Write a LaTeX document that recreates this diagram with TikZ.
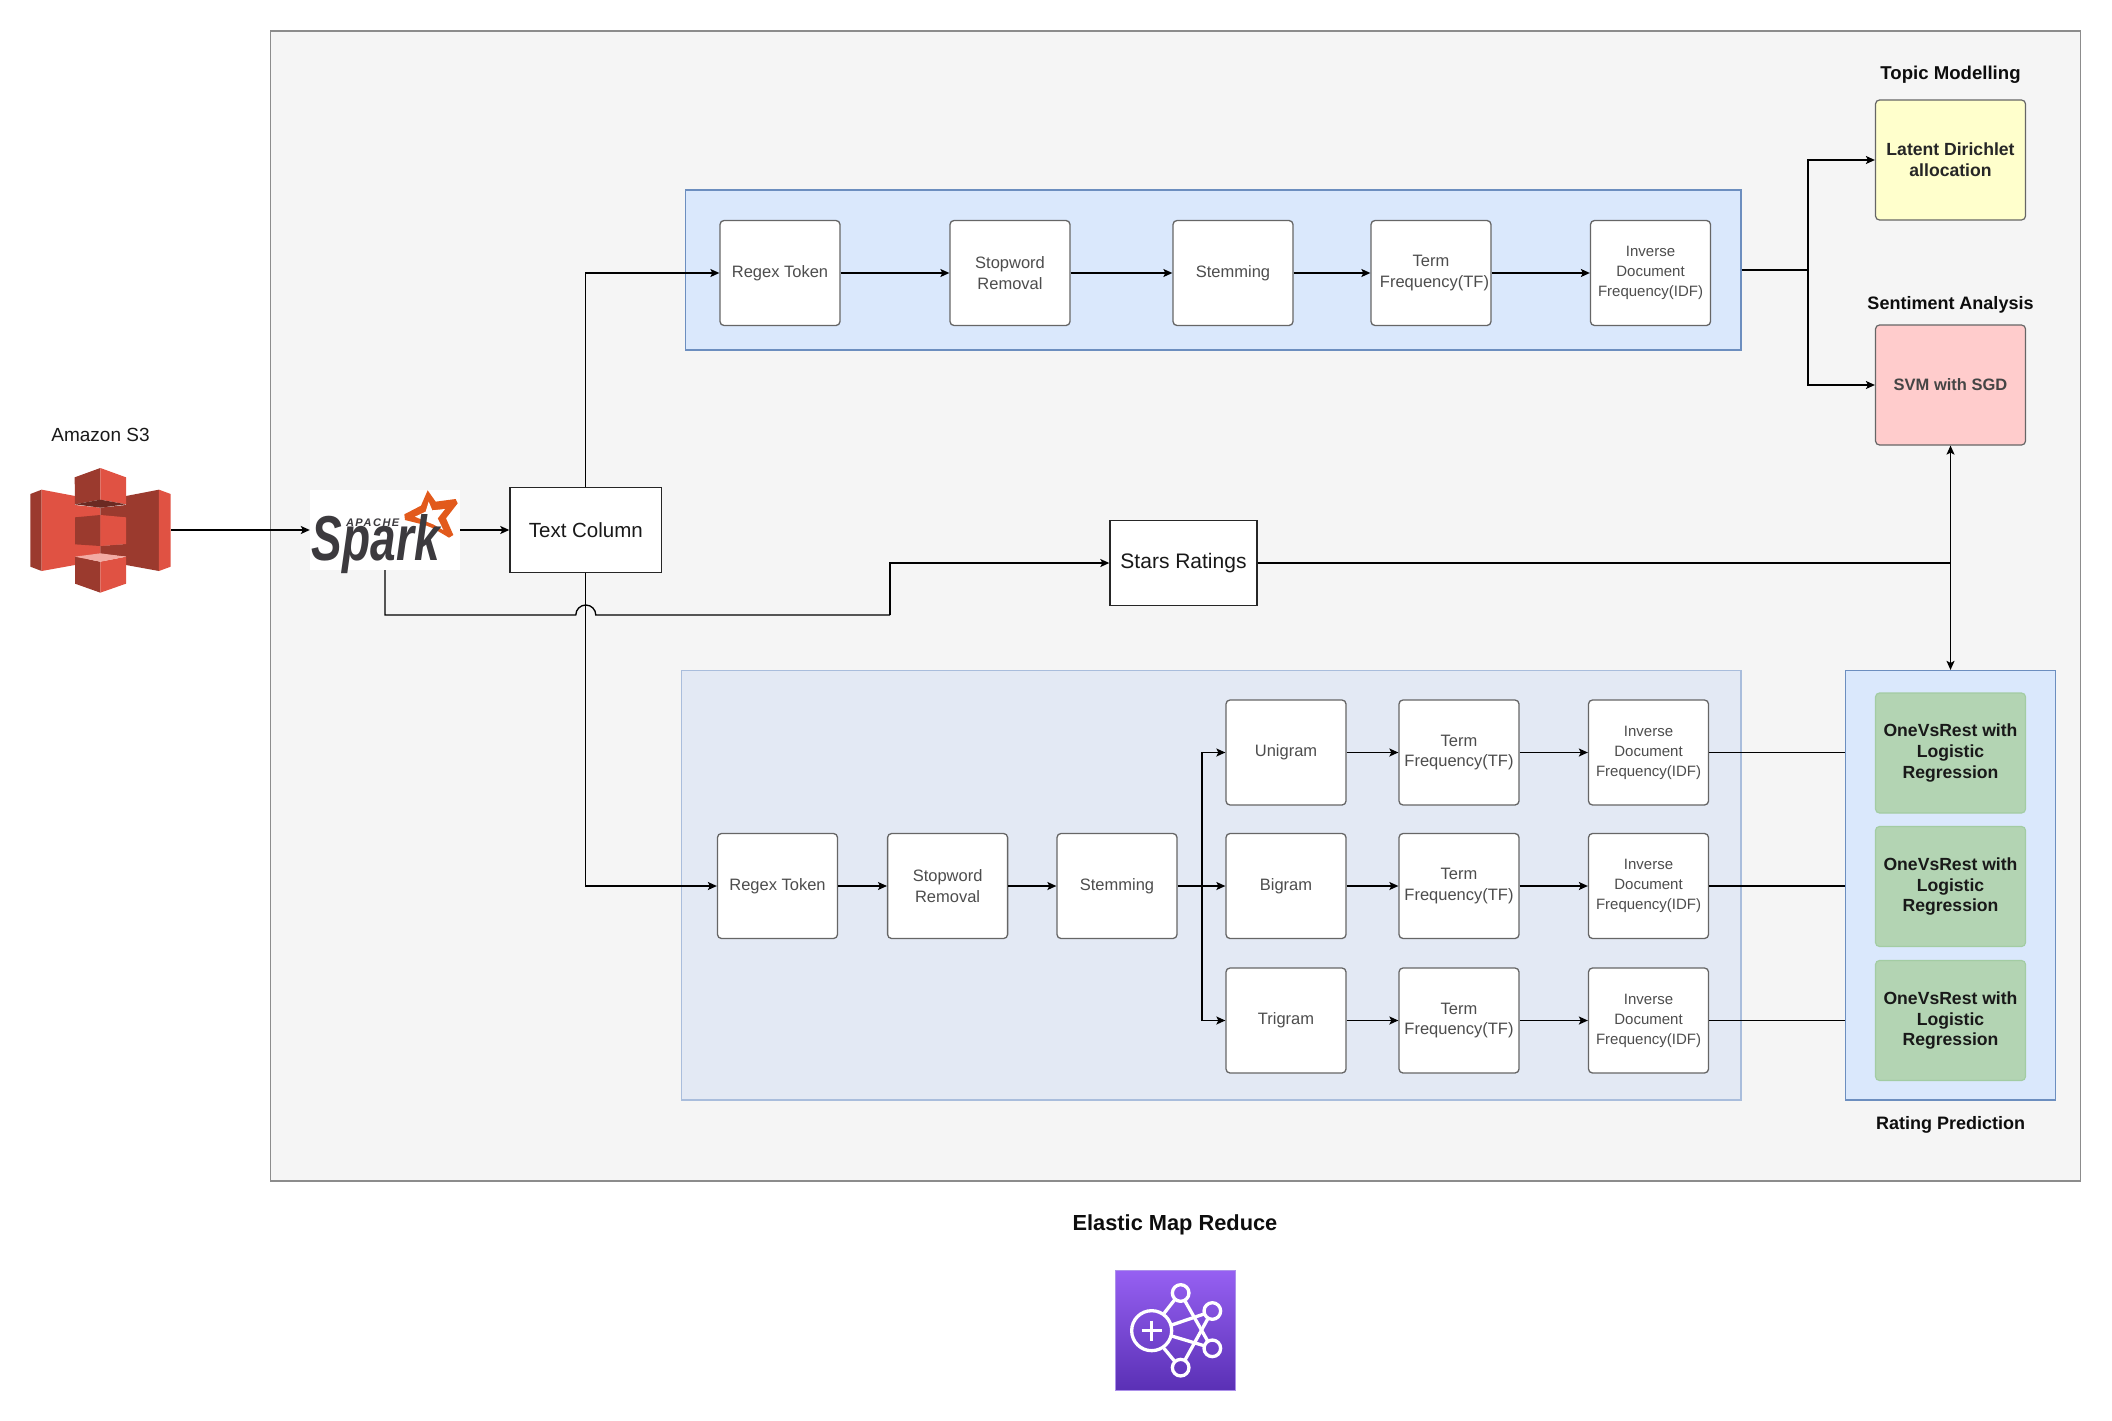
\documentclass[tikz,border=0pt]{standalone}
\usepackage{fontspec}
\setmainfont{Liberation Sans}
\newfontfamily\apachefont[LetterSpace=14]{Liberation Sans}
\usetikzlibrary{arrows.meta,calc}
\definecolor{outerfill}{HTML}{F5F5F5}
\definecolor{outerline}{HTML}{8C8C8C}
\definecolor{bluefill}{HTML}{DAE8FC}
\definecolor{blueline}{HTML}{6C8EBF}
\definecolor{panelfill}{HTML}{E3E9F4}
\definecolor{panelline}{HTML}{A9BDDC}
\definecolor{boxline}{HTML}{666666}
\definecolor{boxtext}{HTML}{4D4D4D}
\definecolor{yellowfill}{HTML}{FFFFCC}
\definecolor{pinkfill}{HTML}{FFCCCC}
\definecolor{greenfill}{HTML}{B3D4B3}
\definecolor{greenline}{HTML}{A3CCA3}
\definecolor{awslight}{HTML}{E05243}
\definecolor{awsdark}{HTML}{9B3A2E}
\definecolor{awsdeep}{HTML}{6B2A22}
\definecolor{awspale}{HTML}{F2ABA3}
\definecolor{sparkorange}{HTML}{E25A1C}
\definecolor{sparkgrey}{HTML}{3C3A3E}
\definecolor{emrtop}{HTML}{9660F2}
\definecolor{emrbot}{HTML}{5A30B5}
\definecolor{emrline}{HTML}{AC90EA}
\tikzset{
  x=1pt,y=-1pt,
  outerbox/.style={draw=outerline,fill=outerfill,line width=1.3pt,inner sep=0pt},
  bluepanel/.style={draw=blueline,fill=bluefill,line width=1.3pt,inner sep=0pt},
  greypanel/.style={draw=panelline,fill=panelfill,line width=1.3pt,inner sep=0pt},
  stepbox/.style={draw=boxline,fill=white,line width=1.3pt,rounded corners=4pt,inner sep=0pt,
    minimum width=120pt,minimum height=105pt,align=center,text=boxtext,
    font=\fontsize{16.5}{20.5}\selectfont},
  idfbox/.style={stepbox,font=\fontsize{15}{20}\selectfont},
  plainbox/.style={draw=black!85,fill=white,line width=1.4pt,inner sep=0pt,text=black!90,
    font=\fontsize{20.5}{24}\selectfont},
  modelbox/.style={draw=boxline,line width=1.2pt,rounded corners=4pt,inner sep=0pt,
    minimum width=150pt,minimum height=120pt,align=center,
    font=\bfseries\fontsize{17.6}{20.8}\selectfont},
  ovrbox/.style={modelbox,draw=greenline,fill=greenfill,text=black!90},
  caption/.style={inner sep=0pt,font=\bfseries\fontsize{18}{22}\selectfont,text=black!95},
  link/.style={draw=black,line width=1.35pt,-{Stealth[length=9pt,width=8pt,inset=2pt]}},
  wire/.style={draw=black,line width=1.35pt},
  greylink/.style={link,draw=black!70},
  emrstroke/.style={draw=white,line width=3.3pt},
}
\begin{document}
\begin{tikzpicture}
\useasboundingbox (0,0) rectangle (2112,1421);

% containers
\node[outerbox,minimum width=1810pt,minimum height=1150pt] (emr) at (1175.5,606) {};
\node[bluepanel,minimum width=1055.7pt,minimum height=160pt] (toppanel) at (1213.2,270) {};
\node[greypanel,minimum width=1059.4pt,minimum height=429.5pt] (botpanel) at (1211.3,885.3) {};
\node[bluepanel,minimum width=210pt,minimum height=429.5pt] (rp) at (1950.5,885.3) {};

% S3 anchor + Spark anchor
\node[inner sep=0pt,minimum width=140.4pt,minimum height=125pt] (s3) at (100.5,530) {};
\node[fill=white,inner sep=0pt,minimum width=150pt,minimum height=80pt] (spark) at (385,530) {};

% main boxes
\node[plainbox,minimum width=151.6pt,minimum height=85pt] (tc) at (585.8,530) {Text Column};
\node[plainbox,minimum width=147pt,minimum height=85pt,font=\fontsize{21}{25}\selectfont] (stars) at (1183.5,563) {Stars Ratings};

% top row
\node[stepbox] (r1) at (780,273) {Regex Token};
\node[stepbox] (s1) at (1010,273) {Stopword\\Removal};
\node[stepbox] (m1) at (1233,273) {Stemming};
\node[stepbox] (t1) at (1431,273) {Term\\\hspace*{7pt}Frequency(TF)};
\node[idfbox] (i1) at (1650.5,273) {Inverse\\Document\\Frequency(IDF)};

% bottom row
\node[stepbox] (r2) at (777.5,886) {Regex Token};
\node[stepbox] (s2) at (947.6,886) {Stopword\\Removal};
\node[stepbox] (m2) at (1117,886) {Stemming};

\node[stepbox] (uni) at (1286,752.5) {Unigram};
\node[stepbox] (bi) at (1286,886) {Bigram};
\node[stepbox] (tri) at (1286,1020.5) {Trigram};

\node[stepbox] (tu) at (1459,752.5) {Term\\Frequency(TF)};
\node[stepbox] (tb) at (1459,886) {Term\\Frequency(TF)};
\node[stepbox] (tt) at (1459,1020.5) {Term\\Frequency(TF)};

\node[idfbox] (iu) at (1648.5,752.5) {Inverse\\Document\\Frequency(IDF)};
\node[idfbox] (ib) at (1648.5,886) {Inverse\\Document\\Frequency(IDF)};
\node[idfbox] (it) at (1648.5,1020.5) {Inverse\\Document\\Frequency(IDF)};

% models
\node[modelbox,fill=yellowfill,text=black!85] (lda) at (1950.5,160) {Latent Dirichlet\\allocation};
\node[modelbox,fill=pinkfill,text=boxtext!90!black,font=\bfseries\fontsize{16.5}{20}\selectfont] (svm) at (1950.5,385) {SVM with SGD};
\node[ovrbox] (o1) at (1950.5,753) {OneVsRest with\\Logistic\\Regression};
\node[ovrbox] (o2) at (1950.5,886.5) {OneVsRest with\\Logistic\\Regression};
\node[ovrbox] (o3) at (1950.5,1020.5) {OneVsRest with\\Logistic\\Regression};

% captions
\node[inner sep=0pt,font=\fontsize{19}{23}\selectfont,text=black!90] (s3label) at (100.5,434.5) {Amazon S3};
\node[caption,font=\bfseries\fontsize{18.6}{22}\selectfont] (topic) at (1950.5,75) {Topic Modelling};
\node[caption] (senti) at (1950.5,305) {Sentiment Analysis};
\node[caption] (rating) at (1950.5,1125) {Rating Prediction};
\node[caption,font=\bfseries\fontsize{21.8}{26}\selectfont] (emrlabel) at (1175,1225) {Elastic Map Reduce};

% junction points
\coordinate (fork) at (1808,270);
\coordinate (split) at (1202,886);
\coordinate (jl) at (575.8,615);
\coordinate (jr) at (595.8,615);
\coordinate (bend) at (890,615);

% connectors
\draw[link] (s3.east) -- (spark.west);
\draw[link] (spark.east) -- (tc.west);
\draw[link] (tc.north) |- (r1.west);
\draw[link] (tc.south) |- (r2.west);
\draw[wire] (spark.south) |- (jl) arc[start angle=180,end angle=0,radius=10pt] -- (bend);
\draw[link] (bend) |- (stars.west);
\draw[link] (r1) -- (s1);
\draw[link] (s1) -- (m1);
\draw[link] (m1) -- (t1);
\draw[link] (t1) -- (i1);
\draw[wire] (toppanel.east) -- (fork);
\draw[link] (fork) |- (lda.west);
\draw[link] (fork) |- (svm.west);
\draw[link] (stars.east) -| (svm.south);
\draw[link] (stars.east) -| (rp.north);
\draw[link] (r2) -- (s2);
\draw[link] (s2) -- (m2);
\draw[link] (m2) -- (bi);
\draw[link] (split) |- (uni.west);
\draw[link] (split) |- (tri.west);
\draw[link] (uni) -- (tu);
\draw[link] (bi) -- (tb);
\draw[link] (tri) -- (tt);
\draw[link] (tu) -- (iu);
\draw[link] (tb) -- (ib);
\draw[link] (tt) -- (it);
\draw[wire] (iu.east) -- (iu.east -| rp.west);
\draw[wire] (ib.east) -- (ib.east -| rp.west);
\draw[wire] (it.east) -- (it.east -| rp.west);

% S3 icon
\begin{scope}[shift={(25,485)},x=.33333pt,y=-.33333pt]
  \fill[awsdark] (16,27) -- (50,14) -- (50,258) -- (16,245) -- cycle;
  \fill[awslight] (50,14) -- (150,33) -- (150,60) -- (226,68) -- (226,210) -- (150,240) -- (50,258) -- cycle;
  \fill[awsdark] (402,14) -- (303,33) -- (303,60) -- (226,68) -- (226,183) -- (303,177) -- (303,240) -- (402,258) -- cycle;
  \fill[awslight] (402,14) -- (437,27) -- (437,245) -- (402,258) -- cycle;
  \fill[awslight] (150,178) -- (226,183) -- (226,207) -- (150,215) -- cycle;
  \fill[awsdark] (226,183) -- (303,177) -- (303,215) -- (226,207) -- cycle;
  % top cube
  \fill[awsdark] (226,-51) -- (149,-23) -- (150,58) -- (226,44) -- cycle;
  \fill[awslight] (226,-51) -- (303,-23) -- (303,58) -- (226,44) -- cycle;
  \fill[awsdeep] (150,58) -- (226,44) -- (303,58) -- (226,68) -- cycle;
  % middle cube
  \fill[awsdark] (150,97) -- (226,90) -- (226,183) -- (150,178) -- cycle;
  \fill[awslight] (226,90) -- (303,97) -- (303,177) -- (226,183) -- cycle;
  % bottom cube
  \fill[awsdark] (150,215) -- (226,230) -- (226,323) -- (150,296) -- cycle;
  \fill[awslight] (226,230) -- (303,215) -- (303,296) -- (226,323) -- cycle;
  \fill[awspale] (150,215) -- (226,205) -- (303,215) -- (226,230) -- cycle;
\end{scope}

% Spark logo
\begin{scope}[shift={(305,485)},x=.33333pt,y=-.33333pt]
  \fill[sparkorange] (368,16) -- (392,50) -- (452,42) -- (458,55) -- (423,100) -- (445,150) -- (432,158) -- (385,130) -- (360,120) -- (300,105) -- (298,88) -- (348,62) -- cycle;
  \fill[white] (371,50) -- (382,76) -- (420,72) -- (398,100) -- (415,135) -- (385,118) -- (365,110) -- (330,95) -- (362,80) -- cycle;
  \node[inner sep=0pt,anchor=base,text=sparkgrey,font=\bfseries\itshape\fontsize{46}{46}\selectfont,yscale=1.15,transform shape=false] (sparkword) at (212,225) {\scalebox{1}[1.2]{Spark}};
  \node[inner sep=0pt,anchor=base,text=sparkgrey,font=\apachefont\bfseries\itshape\fontsize{11}{11}\selectfont] (apache) at (203,124) {APACHE};
\end{scope}

% EMR icon
\begin{scope}[shift={(1040,1200)},x=.33333pt,y=-.33333pt]
  \shade[top color=emrtop,bottom color=emrbot] (226,211) rectangle (587,572);
  \draw[emrline,line width=1.2pt] (226,211) rectangle (587,572);
  \draw[emrstroke] (335,392) circle[radius=20pt];
  \draw[emrstroke] (305,392) -- (365,392) (335,362) -- (335,422);
  \draw[emrstroke] (422,279) circle[radius=8.3pt];
  \draw[emrstroke] (517,333) circle[radius=8.3pt];
  \draw[emrstroke] (517,445) circle[radius=8.3pt];
  \draw[emrstroke] (422,503) circle[radius=8.3pt];
  \draw[emrstroke] (372,340) -- (405,298);
  \draw[emrstroke] (372,445) -- (405,485);
  \draw[emrstroke] (395,375) -- (492,342);
  \draw[emrstroke] (395,408) -- (492,437);
  \draw[emrstroke] (435,303) -- (503,423);
  \draw[emrstroke] (435,480) -- (503,357);
\end{scope}
\end{tikzpicture}
\end{document}
